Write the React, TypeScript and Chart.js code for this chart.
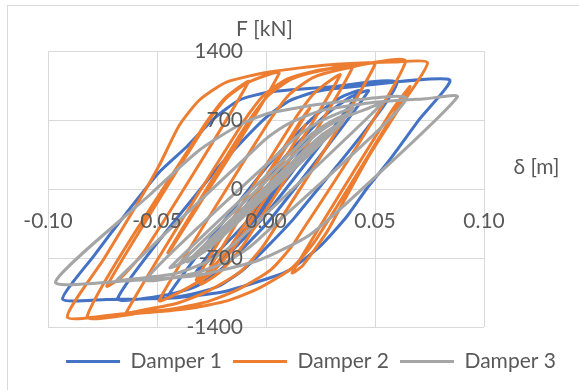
import React, { useEffect, useRef } from 'react';
import { Chart, registerables } from 'chart.js';

Chart.register(...registerables);

const seriesNames = ['Damper 1', 'Damper 2', 'Damper 3'];
const seriesColors = ['#4472C4', '#ED7D31', '#A5A5A5'];
const xTicks = [-0.1, -0.05, 0, 0.05, 0.1];
const yTicks = [-1400, -700, 0, 700, 1400];
const xTitle = 'δ [m]';
const yTitle = 'F [kN]';

// Hysteresis paths: [displacement δ (m), force F (kN)] in load-history order
const damper1: [number, number][] = [
  [0, 0],
  [0.0072, 209], [0.022, 558],
  [-0.0072, -288], [-0.0192, -573], [-0.032, -840],
  [0.0037, 195], [0.0157, 491], [0.0277, 757], [0.0387, 932], [0.047, 994],
  [0.0029, -284], [-0.0091, -569], [-0.0211, -823], [-0.0321, -988], [-0.0451, -1073], [-0.068, -1109],
  [-0.0243, 157], [-0.0123, 453], [-0.0003, 720], [0.0107, 894], [0.0237, 992], [0.0407, 1040], [0.0842, 1108],
  [0.0704, 708], [0.0567, 294], [0.0461, 0], [0.0369, -284], [0.0245, -588], [0.0108, -822], [0.0016, -903],
  [-0.02, -1045], [-0.0429, -1106], [-0.0731, -1120], [-0.0933, -1118],
  [-0.0787, -670], [-0.064, -243], [-0.0489, 172], [-0.0365, 426], [-0.0236, 720], [-0.0122, 903],
  [0.0016, 984], [0.0291, 1035], [0.06, 1070],
  [0.0135, -280], [0.0015, -564], [-0.0105, -819], [-0.0215, -984], [-0.0345, -1069], [-0.045, -1088],
  [-0.001, 189], [0.011, 485], [0.023, 751], [0.034, 926], [0.043, 993],
  [-0.0011, -285], [-0.0131, -570], [-0.02, -717],
  [0.0118, 206], [0.02, 408],
  [-0.004, -287], [-0.01, -430],
  [0.008, 92],
];

const damper2: [number, number][] = [
  [0, 0],
  [0.018, 648],
  [-0.0158, -567], [-0.0268, -849], [-0.032, -920],
  [0.0134, 715], [0.0224, 979], [0.034, 1154],
  [-0.0138, -565], [-0.0248, -847], [-0.0398, -1049], [-0.049, -1130],
  [0.0018, 698], [0.0108, 961], [0.0218, 1133], [0.0368, 1225], [0.05, 1263],
  [-0.0004, -550], [-0.0114, -833], [-0.0264, -1034], [-0.0404, -1157], [-0.0584, -1237], [-0.064, -1249],
  [-0.0104, 680], [-0.0014, 943], [0.0096, 1114], [0.0246, 1207], [0.0396, 1249], [0.064, 1290],
  [0.0133, -535], [0.0023, -817], [-0.0127, -1019], [-0.0267, -1142], [-0.0447, -1222], [-0.0667, -1268], [-0.0911, -1299],
  [-0.0741, -700], [-0.058, -112], [-0.0489, 243], [-0.0397, 649], [-0.0305, 903], [-0.0181, 1085],
  [0.0016, 1187], [0.0278, 1258], [0.058, 1288], [0.0741, 1280],
  [0.0612, 822], [0.0475, 345], [0.036, -112], [0.0278, -440], [0.0167, -780], [0.012, -850],
  [0.0573, 781], [0.066, 1036],
  [0.0226, -525], [0.0116, -807], [-0.0034, -1009], [-0.0174, -1132], [-0.0354, -1212], [-0.0574, -1258], [-0.082, -1288],
  [-0.0281, 653], [-0.0191, 916], [-0.008, 1088],
  [-0.0552, -611], [-0.0662, -893], [-0.073, -984],
  [-0.0275, 654], [-0.0185, 917], [-0.0075, 1089], [0.006, 1172],
  [-0.0432, -597], [-0.045, -645],
  [-0.0081, 683], [0.0009, 946], [0.0119, 1118], [0.0269, 1210], [0.04, 1247],
  [-0.0102, -561], [-0.0212, -843], [-0.03, -961],
  [0.0167, 720], [0.02, 817],
  [-0.005, -83],
];

const damper3: [number, number][] = [
  [0, 0],
  [0.015, 315],
  [-0.02, -420],
  [0.0192, 403], [0.0272, 563], [0.03, 602],
  [-0.0208, -464], [-0.0288, -618], [-0.0388, -752], [-0.04, -762],
  [0.0153, 398], [0.0233, 558], [0.0333, 700], [0.0473, 822], [0.0534, 870],
  [-0.0099, -459], [-0.0179, -613], [-0.0279, -748], [-0.0419, -859], [-0.0649, -922], [-0.0685, -926],
  [-0.0067, 372], [0.0013, 532], [0.0113, 674], [0.0253, 795], [0.0483, 876], [0.0733, 916], [0.0878, 935],
  [0.0461, 41], [0.02, -467], [-0.003, -720], [-0.0305, -872], [-0.06, -925], [-0.0966, -945],
  [-0.0534, -61], [-0.0305, 396], [-0.0122, 649], [0.0016, 771], [0.0291, 872], [0.0644, 912],
  [-0.0007, -455], [-0.0087, -609], [-0.0187, -743], [-0.0327, -855], [-0.055, -916],
  [0.0071, 389], [0.0151, 548], [0.0251, 690], [0.04, 815],
  [-0.0209, -464], [-0.03, -633],
  [0.0193, 403], [0.0273, 563], [0.035, 672],
  [-0.0191, -464], [-0.0271, -617], [-0.036, -737],
  [0.0182, 402], [0.026, 557],
  [-0.022, -451],
  [0.0186, 402], [0.0266, 562], [0.032, 638],
  [-0.0205, -464], [-0.0285, -618], [-0.0385, -752], [-0.044, -796],
  [0.0127, 395], [0.0207, 555], [0.0307, 697], [0.038, 761],
  [-0.0203, -464], [-0.026, -573],
  [0.016, 309],
  [-0.008, -195],
];

const seriesData = [damper1, damper2, damper3];

const FONT = 'Lato, "Open Sans", sans-serif';
const FONT_SIZE = 21;
const TEXT = '#595959';
const GRID = '#d9d9d9';

// Outer frame, force tick labels beside the zero line, and the axis titles
const decorations = {
  id: 'decorations',
  beforeDraw(chart: any) {
    const { ctx } = chart;
    ctx.save();
    ctx.strokeStyle = GRID;
    ctx.lineWidth = 1;
    ctx.strokeRect(7.5, 5.5, 700, 500);
    ctx.restore();
  },
  afterDatasetsDraw(chart: any) {
    const { ctx, chartArea, scales } = chart;
    const x0 = scales.x.getPixelForValue(0);
    ctx.save();
    ctx.font = `${FONT_SIZE}px ${FONT}`;
    ctx.fillStyle = TEXT;
    ctx.textBaseline = 'middle';
    ctx.textAlign = 'right';
    yTicks.forEach((v) => ctx.fillText(String(v), x0 - 23, scales.y.getPixelForValue(v)));
    ctx.textAlign = 'center';
    ctx.fillText(yTitle, x0 - 1.5, chartArea.top - 22);
    ctx.fillText(xTitle, chartArea.right + 52.5, scales.y.getPixelForValue(0) - 22);
    ctx.restore();
  },
};

export default function App() {
  const ref = useRef<HTMLCanvasElement>(null);

  useEffect(() => {
    const canvas = ref.current;
    if (!canvas) return;
    const chart = new Chart(canvas, {
      type: 'scatter',
      data: {
        datasets: seriesData.map((pts, i) => ({
          label: seriesNames[i],
          data: pts.map(([x, y]) => ({ x, y })),
          showLine: true,
          borderColor: seriesColors[i],
          backgroundColor: seriesColors[i],
          borderWidth: 3,
          pointRadius: 0,
          pointHoverRadius: 0,
          tension: 0.2,
          fill: false,
          borderJoinStyle: 'round',
          order: 3 - i,
        })),
      },
      options: {
        animation: false,
        responsive: false,
        devicePixelRatio: 1,
        events: [],
        layout: { padding: { left: 48, right: 5, top: 51, bottom: 8 } },
        scales: {
          x: {
            type: 'linear',
            position: 'center',
            min: -0.1,
            max: 0.1,
            afterBuildTicks: (s: any) => { s.ticks = xTicks.map((v) => ({ value: v })); },
            ticks: {
              autoSkip: false,
              maxRotation: 0,
              padding: 20,
              z: 1,
              color: TEXT,
              font: { family: FONT, size: FONT_SIZE },
              callback: (v: any) => Number(v).toFixed(2),
            },
            grid: { color: GRID, lineWidth: 1, drawTicks: false },
            border: { display: true, color: GRID, width: 1 },
          },
          y: {
            type: 'linear',
            position: 'center',
            min: -1400,
            max: 1400,
            afterBuildTicks: (s: any) => { s.ticks = yTicks.map((v) => ({ value: v })); },
            ticks: { display: false },
            grid: { color: GRID, lineWidth: 1, drawTicks: false },
            border: { display: true, color: GRID, width: 1 },
          },
          padR: {
            type: 'linear',
            axis: 'y',
            position: 'right',
            display: true,
            grid: { display: false },
            border: { display: false },
            ticks: { display: false },
            afterFit: (s: any) => { s.width = 90; },
          },
          padB: {
            type: 'linear',
            axis: 'x',
            position: 'bottom',
            display: true,
            grid: { display: false },
            border: { display: false },
            ticks: { display: false },
            afterFit: (s: any) => { s.height = 13; },
          },
        } as any,
        plugins: {
          legend: {
            display: true,
            position: 'bottom',
            align: 'center',
            labels: {
              usePointStyle: true,
              pointStyle: 'line',
              pointStyleWidth: 54,
              padding: 11,
              color: TEXT,
              font: { family: FONT, size: FONT_SIZE },
              sort: (a: any, b: any) => a.datasetIndex - b.datasetIndex,
            },
          },
          tooltip: { enabled: false },
        },
      },
      plugins: [decorations],
    } as any);
    return () => chart.destroy();
  }, []);

  return (
    <div style={{ position: 'fixed', left: 0, top: 0, width: 579, height: 390, background: '#ffffff', overflow: 'hidden' }}>
      <canvas ref={ref} width={579} height={390} style={{ display: 'block', width: 579, height: 390 }} />
    </div>
  );
}
